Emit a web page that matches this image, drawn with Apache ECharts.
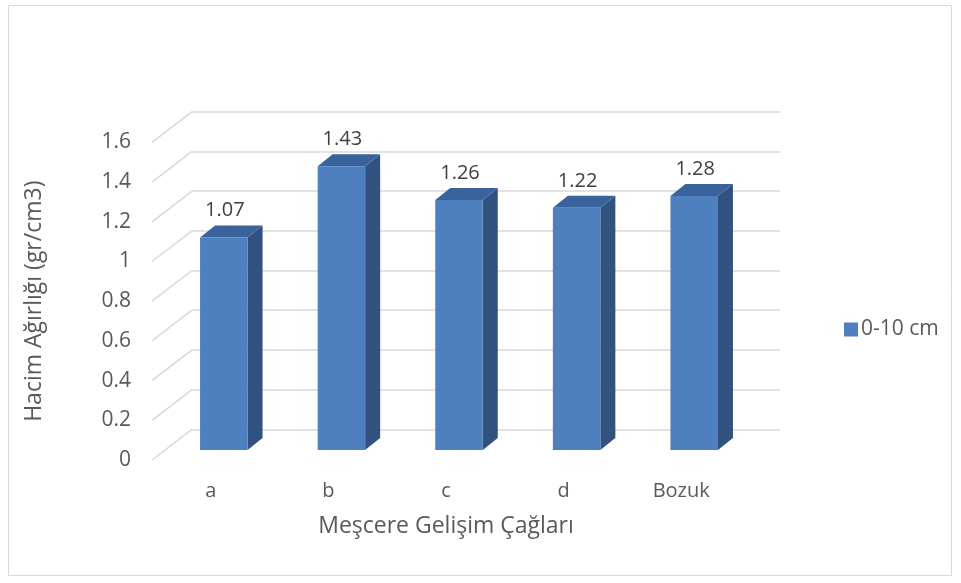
<!DOCTYPE html>
<html>
<head>
<meta charset="utf-8">
<script src="https://cdn.jsdelivr.net/npm/echarts@6/dist/echarts.min.js"></script>
<style>
  html, body { margin: 0; padding: 0; background: #fff; }
  #chart { width: 961px; height: 583px; }
</style>
</head>
<body>
<div id="chart"></div>
<script>
// Bulk density by stand development stage
const categories = ['a', 'b', 'c', 'd', 'Bozuk'];
const values = [1.07, 1.43, 1.26, 1.22, 1.28];
const seriesName = '0-10 cm';
const yTicks = [0, 0.2, 0.4, 0.6, 0.8, 1, 1.2, 1.4, 1.6];

const FONT = '"Open Sans", "DejaVu Sans", sans-serif';
const TEXT = '#595959';
const GRID = '#D9D9D9';

// oblique projection: shift from back wall to front edge of floor
const DEPTH_X = -40, DEPTH_Y = 30.7;
// bar placement inside the depth and its own thickness
const BAR_FRONT_DX = -27, BAR_FRONT_DY = 20.7;
const BAR_DEPTH_X = 15, BAR_DEPTH_Y = -12;
const BAR_W = 47.5;

const chart = echarts.init(document.getElementById('chart'), null, { renderer: 'canvas' });

function renderBar(params, api) {
  const i = api.value(0);
  const v = api.value(1);
  const base = api.coord([i, 0]);
  const top = api.coord([i, v]);
  const cx = base[0] + BAR_FRONT_DX;
  const xl = cx - BAR_W / 2, xr = cx + BAR_W / 2;
  const yb = base[1] + BAR_FRONT_DY, yt = top[1] + BAR_FRONT_DY;
  const dx = BAR_DEPTH_X, dy = BAR_DEPTH_Y;
  return {
    type: 'group',
    children: [
      {
        type: 'polygon',
        shape: { points: [[xr, yt], [xr + dx, yt + dy], [xr + dx, yb + dy], [xr, yb]] },
        style: { fill: '#31527F' }
      },
      {
        type: 'polygon',
        shape: { points: [[xl, yt], [xl + dx, yt + dy], [xr + dx, yt + dy], [xr, yt]] },
        style: { fill: '#3A629C' }
      },
      {
        type: 'rect',
        shape: { x: xl, y: yt, width: BAR_W, height: yb - yt },
        style: { fill: '#4E7FBE' }
      },
      {
        type: 'text',
        style: {
          text: String(v),
          x: cx + 1, y: yt - 27,
          align: 'center', verticalAlign: 'middle',
          fill: '#404040', font: '20px ' + FONT
        }
      }
    ]
  };
}

function renderFloorLine(params, api) {
  const v = api.value(0);
  const y = api.coord([0, v])[1];
  const x = params.coordSys.x;
  return {
    type: 'line',
    shape: { x1: x, y1: y, x2: x + DEPTH_X, y2: y + DEPTH_Y },
    style: { stroke: GRID, lineWidth: 1.5 }
  };
}

const option = {
  backgroundColor: '#fff',
  animation: false,
  graphic: [{
    type: 'rect',
    shape: { x: 8.5, y: 5.5, width: 943, height: 570 },
    style: { fill: null, stroke: '#D9D9D9', lineWidth: 1 },
    z: -10
  }],
  legend: {
    data: [seriesName],
    left: 844, top: 319,
    padding: 0,
    itemWidth: 14, itemHeight: 14,
    icon: 'rect',
    itemGap: 4,
    textStyle: { color: TEXT, fontSize: 21, fontFamily: FONT, padding: [0, 0, 0, -2] }
  },
  grid: [
    { left: 192, right: 181, top: 111.7, bottom: 153.7 },
    { left: 152, right: 221, top: 142.4, bottom: 123 }
  ],
  xAxis: [
    { type: 'category', gridIndex: 0, data: categories, show: false },
    {
      type: 'category', gridIndex: 1, data: categories,
      axisLine: { show: false }, axisTick: { show: false },
      axisLabel: { color: TEXT, fontSize: 20, fontFamily: FONT, margin: 21 },
      name: 'Meşcere Gelişim Çağları',
      nameLocation: 'middle', nameGap: 55,
      nameTextStyle: { color: TEXT, fontSize: 23, fontFamily: FONT }
    }
  ],
  yAxis: [
    {
      type: 'value', gridIndex: 0, min: 0, max: 1.6, interval: 0.2,
      axisLine: { show: false }, axisTick: { show: false }, axisLabel: { show: false },
      splitLine: { lineStyle: { color: GRID, width: 1.5 } }
    },
    {
      type: 'value', gridIndex: 1, min: 0, max: 1.6, interval: 0.2,
      axisLine: { show: false }, axisTick: { show: false },
      splitLine: { show: false },
      axisLabel: { color: TEXT, fontSize: 21, fontFamily: FONT, margin: 21 },
      name: 'Hacim Ağırlığı (gr/cm3)',
      nameLocation: 'middle', nameGap: 106, nameRotate: 90,
      nameTextStyle: { color: TEXT, fontSize: 23, fontFamily: FONT }
    }
  ],
  series: [
    {
      type: 'custom',
      name: 'floor',
      xAxisIndex: 0, yAxisIndex: 0,
      renderItem: renderFloorLine,
      data: yTicks.map(v => [v]),
      encode: { y: 0 },
      silent: true, z: 1
    },
    {
      type: 'custom',
      name: seriesName,
      xAxisIndex: 0, yAxisIndex: 0,
      itemStyle: { color: '#4E7FBE' },
      renderItem: renderBar,
      data: values.map((v, i) => [i, v]),
      encode: { x: 0, y: 1 },
      z: 5
    }
  ]
};

chart.setOption(option);
</script>
</body>
</html>
